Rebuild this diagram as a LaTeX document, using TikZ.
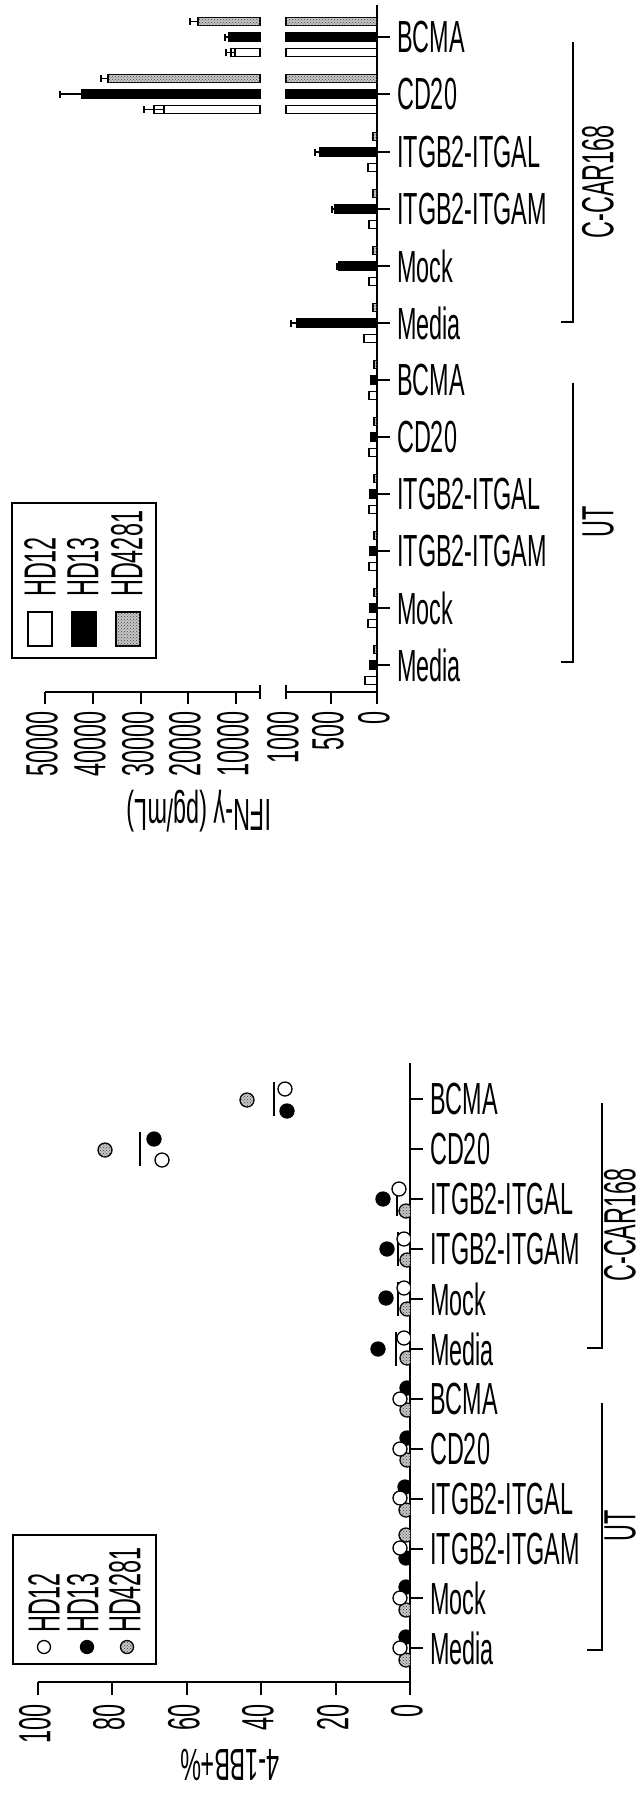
\documentclass[tikz,border=0pt]{standalone}
\usepackage{fontspec}
\setmainfont{Liberation Sans}[FakeStretch=0.52]
\usetikzlibrary{patterns}

\newcommand{\chartfont}{\fontsize{45}{50}\selectfont}

\begin{document}
\begin{tikzpicture}[
    x=1pt, y=-1pt,
    axis/.style={line width=2.5pt},
    lbl/.style={font=\chartfont, inner sep=0pt},
    whitebar/.style={draw, line width=1.3pt, fill=white},
    blackbar/.style={draw, line width=1.3pt, fill=black},
    dotbar/.style={draw, line width=1.3pt, fill=gray!45, postaction={pattern=crosshatch dots, pattern color=black!75}},
    errbar/.style={line width=1.3pt},
    meanline/.style={line width=2.5pt},
    ptwhite/.style={draw, line width=1.3pt, fill=white},
    ptblack/.style={draw, line width=1.3pt, fill=black},
    ptdot/.style={draw, line width=1.3pt, fill=gray!45, postaction={pattern=crosshatch dots, pattern color=black!75}},
    legendbox/.style={line width=2pt}
]

\useasboundingbox (0,0) rectangle (644,1794);

% IFN-gamma panel: axes

\draw[axis] (377,5) -- (377,704);
\draw[axis] (377,692) -- (286,692);
\draw[axis] (260,692) -- (45,692);
\foreach \x in {331,236,188,141,93,45}
    \draw[axis] (\x,692) -- (\x,704);
\foreach \x in {286,260}
    \draw[axis] (\x,685) -- (\x,699);

\foreach \x/\t [count=\i] in {377/0,331/500,286/1000,236/10000,188/20000,141/30000,93/40000,45/50000}
    \node[lbl, rotate=90, anchor=east] (ifntick\i) at (\x-3,711) {\t};

\foreach \y/\t [count=\i] in {37/BCMA,94/CD20,152/ITGB2-ITGAL,209/ITGB2-ITGAM,266/Mock,323/Media,380/BCMA,437/CD20,494/ITGB2-ITGAL,551/ITGB2-ITGAM,608/Mock,665/Media}{
    \draw[axis] (377,\y) -- (390,\y);
    \node[lbl, anchor=west] (ifncat\i) at (397,\y) {\t};
}

\node[lbl, rotate=180] (ifntitle) at (199,811) {IFN-γ (pg/mL)};

% IFN-gamma panel: broken bars (BCMA, CD20)

\foreach \y/\e/\r in {21.5/198/190, 78.5/108/101}{
    \draw[dotbar] (286,\y-4.25) rectangle (377,\y+4.25);
    \draw[dotbar] (\e,\y-4.25) rectangle (260,\y+4.25);
    \draw[errbar] (\e,\y) -- (\r,\y) (\r,\y-3.5) -- (\r,\y+3.5);
}
\foreach \y/\e/\r in {37/229/225, 94/82/60}{
    \draw[blackbar] (286,\y-4.25) rectangle (377,\y+4.25);
    \draw[blackbar] (\e,\y-4.25) rectangle (260,\y+4.25);
    \draw[errbar] (\e,\y) -- (\r,\y) (\r,\y-3.5) -- (\r,\y+3.5);
}
\foreach \y/\e/\r/\q in {52.5/231/226/235, 109.5/154/144/164}{
    \draw[whitebar] (286,\y-4.25) rectangle (377,\y+4.25);
    \draw[whitebar] (\e,\y-4.25) rectangle (260,\y+4.25);
    \draw[errbar] (\q,\y) -- (\r,\y) (\r,\y-3.5) -- (\r,\y+3.5) (\q,\y-3.5) -- (\q,\y+3.5);
}

% IFN-gamma panel: small bars

\foreach \y/\e in {136.5/373, 193.5/373, 250.5/373, 307.5/373, 364.5/374, 421.5/374, 478.5/374, 535.5/374, 592.5/374, 649.5/374}
    \draw[dotbar] (\e,\y-4.25) rectangle (377,\y+4.25);
\foreach \y/\e/\r in {152/320/315, 209/335/332, 266/339/337, 323/297/291}{
    \draw[blackbar] (\e,\y-4.25) rectangle (377,\y+4.25);
    \draw[errbar] (\e,\y) -- (\r,\y) (\r,\y-3.5) -- (\r,\y+3.5);
}
\foreach \y/\e in {380/371, 437/371, 494/370, 551/370, 608/370, 665/370}
    \draw[blackbar] (\e,\y-4.25) rectangle (377,\y+4.25);
\foreach \y/\e in {167.5/368, 224.5/369, 281.5/369, 338.5/364, 395.5/369, 452.5/369, 509.5/369, 566.5/369, 623.5/368, 680.5/365}
    \draw[whitebar] (\e,\y-4.25) rectangle (377,\y+4.25);

% IFN-gamma panel: groups and legend

\draw[axis] (573,42) -- (573,322) -- (561,322);
\node[lbl, rotate=90] (ifnccar) at (598,182) {C-CAR168};
\draw[axis] (573,383) -- (573,662) -- (561,662);
\node[lbl, rotate=90] (ifnut) at (598,522) {UT};

\draw[legendbox] (12,503) rectangle (156,658);
\draw[whitebar] (28,612) rectangle (52,646);
\draw[blackbar] (72,612) rectangle (96,646);
\draw[dotbar] (116,612) rectangle (140,646);
\node[lbl, rotate=90, anchor=west] (ifnkey1) at (40,597) {HD12};
\node[lbl, rotate=90, anchor=west] (ifnkey2) at (83,597) {HD13};
\node[lbl, rotate=90, anchor=west] (ifnkey3) at (127,597) {HD4281};

% 4-1BB panel: axes

\draw[axis] (410,1063) -- (410,1695);
\draw[axis] (410,1682) -- (38,1682);
\foreach \x in {38,112,187,261,336}
    \draw[axis] (\x,1682) -- (\x,1695);

\foreach \x/\t [count=\i] in {410/0,336/20,261/40,187/60,112/80,38/100}
    \node[lbl, rotate=90, anchor=east] (bbtick\i) at (\x-3,1704) {\t};

\foreach \y/\t [count=\i] in {1099/BCMA,1149/CD20,1199/ITGB2-ITGAL,1249/ITGB2-ITGAM,1299/Mock,1349/Media,1399/BCMA,1449/CD20,1499/ITGB2-ITGAL,1549/ITGB2-ITGAM,1598/Mock,1648/Media}{
    \draw[axis] (410,\y) -- (423,\y);
    \node[lbl, anchor=west] (bbcat\i) at (430,\y) {\t};
}

\node[lbl, rotate=180] (bbtitle) at (230,1765) {4-1BB+\%};

% 4-1BB panel: points and means

\begin{scope}
\clip (0,1050) rectangle (410,1700);
\foreach \x/\y in {274/1099, 140/1149, 397/1199, 398/1249, 398/1299, 396/1349}
    \draw[meanline] (\x,\y-17) -- (\x,\y+17);
\foreach \x/\y in {247/1100, 105/1150, 406/1211, 407/1260, 407/1309, 407/1358, 407/1410, 407/1460, 406/1510, 406/1535, 406/1610, 406/1660}
    \draw[ptdot] (\x,\y) circle[radius=7pt];
\foreach \x/\y in {287/1111, 154/1139, 383/1199, 387/1249, 386/1298, 378/1349, 407/1388, 407/1438, 405/1487, 406/1558, 406/1587, 406/1637}
    \draw[ptblack] (\x,\y) circle[radius=7pt];
\foreach \x/\y in {285/1089, 162/1160, 399/1189, 404/1239, 404/1288, 404/1338, 400/1399, 400/1449, 400/1498, 400/1548, 400/1598, 400/1648}
    \draw[ptwhite] (\x,\y) circle[radius=7pt];
\end{scope}

% 4-1BB panel: groups and legend

\draw[axis] (602,1103) -- (602,1348) -- (587,1348);
\node[lbl, rotate=90] (bbccar) at (620,1225) {C-CAR168};
\draw[axis] (602,1403) -- (602,1650) -- (587,1650);
\node[lbl, rotate=90] (bbut) at (620,1526) {UT};

\draw[legendbox] (13,1535) rectangle (156,1664);
\draw[ptwhite] (44,1647) circle[radius=6.5pt];
\draw[ptblack] (87,1647) circle[radius=6.5pt];
\draw[ptdot] (127,1647) circle[radius=6.5pt];
\node[lbl, rotate=90, anchor=west] (bbkey1) at (44,1633) {HD12};
\node[lbl, rotate=90, anchor=west] (bbkey2) at (83,1633) {HD13};
\node[lbl, rotate=90, anchor=west] (bbkey3) at (125,1633) {HD4281};

\end{tikzpicture}
\end{document}
